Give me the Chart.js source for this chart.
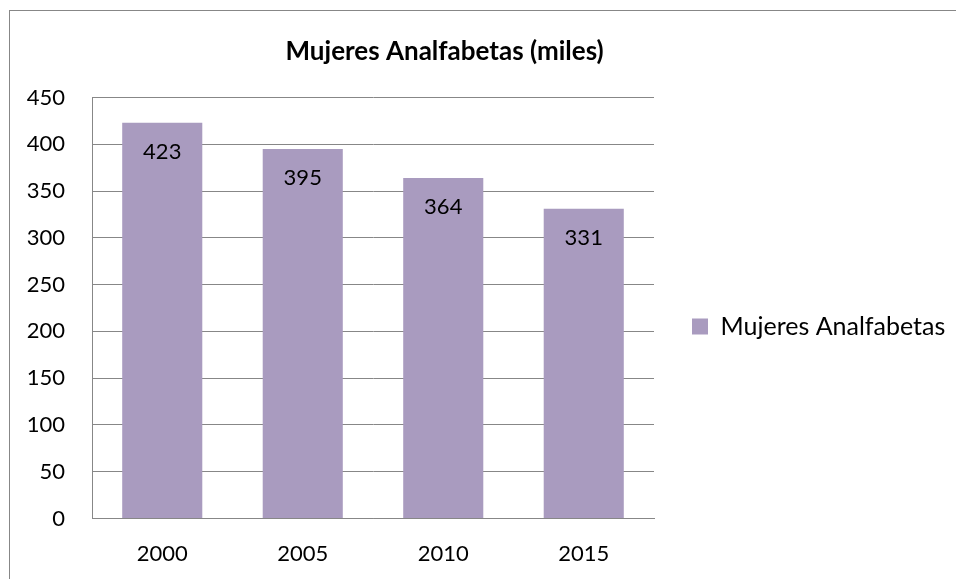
<!DOCTYPE html>
<html>
<head>
<meta charset="utf-8">
<script src="https://cdn.jsdelivr.net/npm/chart.js@4.4.1/dist/chart.umd.min.js"></script>
<style>
    html, body { margin: 0; padding: 0; background: #fff; overflow: hidden; }
    body { width: 956px; height: 579px; position: relative; }
    #frame {
        position: absolute; left: 9px; top: 10px; width: 1000px; height: 1000px;
        border-left: 1px solid #878787; border-top: 1px solid #878787;
    }
    #chart { position: absolute; left: -66px; top: 0; }
</style>
</head>
<body>
<div id="frame"></div>
<canvas id="chart" width="1022" height="579"></canvas>
<script>
    // datos del grafico
    const chartTitle = 'Mujeres Analfabetas (miles)';
    const seriesName = 'Mujeres Analfabetas';
    const years = ['2000', '2005', '2010', '2015'];
    const mujeres = [423, 395, 364, 331];
    const yMin = 0;
    const yMax = 450;
    const yStep = 50;

    const fontFamily = 'Lato';
    const fontSize = 22;
    const titleSize = 26;
    const legendSize = 25;
    const barColor = '#a99bbf';
    const gridColor = '#878787';

    // ancho de la leyenda: se mide el texto para que el area del grafico termine donde debe
    const legendPad = 38;
    const boxSize = 16;
    const legendSpace = 302;
    const mctx = document.createElement('canvas').getContext('2d');
    mctx.font = legendSize + 'px ' + fontFamily;
    const textW = mctx.measureText(seriesName).width;
    const naturalW = legendPad + boxSize + legendSize / 2 + textW + 10;
    const padRight = Math.max(0, legendSpace - naturalW);

    // etiquetas de valor dentro de las barras
    const valueLabels = {
        id: 'valueLabels',
        afterDatasetsDraw(chart) {
            const ctx = chart.ctx;
            const meta = chart.getDatasetMeta(0);
            ctx.save();
            ctx.font = fontSize + 'px ' + fontFamily;
            ctx.fillStyle = '#000';
            ctx.textAlign = 'center';
            ctx.textBaseline = 'middle';
            meta.data.forEach((bar, i) => {
                ctx.fillText(String(chart.data.datasets[0].data[i]), bar.x, bar.y + 29);
            });
            ctx.restore();
        }
    };

    const cfg = {
        type: 'bar',
        data: {
            labels: years,
            datasets: [{
                label: seriesName,
                data: mujeres,
                backgroundColor: barColor,
                borderWidth: 0,
                barPercentage: 0.57,
                categoryPercentage: 1
            }]
        },
        options: {
            responsive: false,
            animation: false,
            layout: {
                padding: { left: 0, top: 0, right: padRight, bottom: 12 }
            },
            scales: {
                x: {
                    grid: { display: false, drawTicks: false },
                    border: { display: true, color: gridColor, width: 1 },
                    ticks: {
                        color: '#000',
                        padding: 22,
                        font: { family: fontFamily, size: fontSize }
                    },
                    afterFit(scale) {
                        scale.height = 48.5;
                    }
                },
                y: {
                    min: yMin,
                    max: yMax,
                    grid: { color: gridColor, lineWidth: 1, drawTicks: false },
                    border: { display: true, color: gridColor, width: 1 },
                    ticks: {
                        stepSize: yStep,
                        color: '#000',
                        padding: 27,
                        font: { family: fontFamily, size: fontSize }
                    },
                    afterFit(scale) {
                        scale.width = 158;
                    }
                }
            },
            plugins: {
                title: {
                    display: true,
                    text: chartTitle,
                    color: '#000',
                    font: { family: fontFamily, size: titleSize, weight: 'bold' },
                    padding: { top: 36.4, bottom: 29.9 }
                },
                legend: {
                    position: 'right',
                    fullSize: false,
                    maxWidth: legendSpace,
                    title: {
                        display: true,
                        text: ' ',
                        font: { size: 1 },
                        padding: { top: 0, bottom: 36 }
                    },
                    labels: {
                        color: '#000',
                        boxWidth: boxSize,
                        boxHeight: boxSize,
                        padding: legendPad,
                        font: { family: fontFamily, size: legendSize }
                    }
                },
                tooltip: { enabled: false }
            }
        },
        plugins: [valueLabels]
    };

    const chart = new Chart(document.getElementById('chart'), cfg);
</script>
</body>
</html>
